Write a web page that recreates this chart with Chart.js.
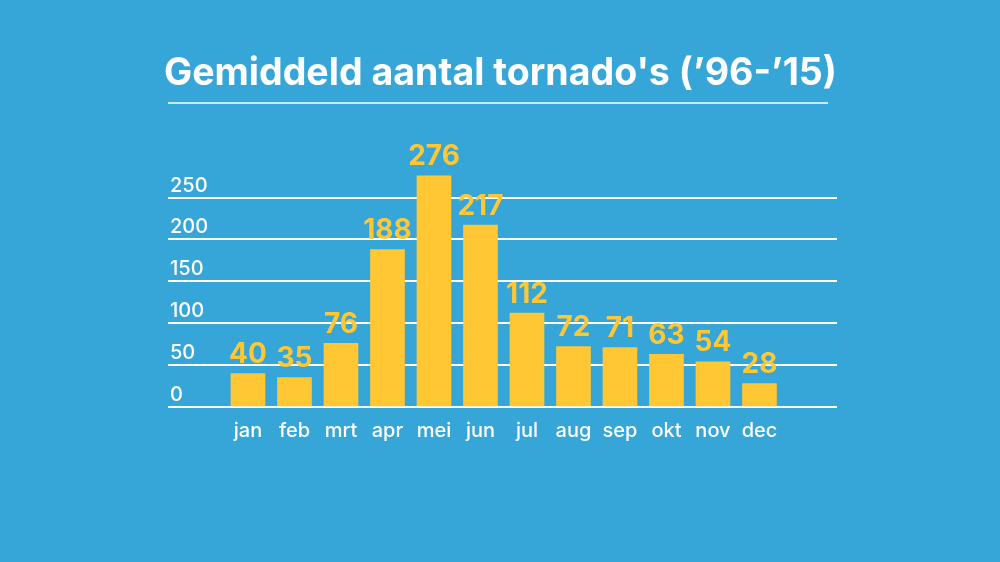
<!DOCTYPE html>
<html>
<head>
<meta charset="utf-8">
<script src="https://cdn.jsdelivr.net/npm/chart.js@4/dist/chart.umd.min.js"></script>
<style>
    html, body { margin: 0; padding: 0; background: #36A5D7; }
    #wrap { width: 1000px; height: 562px; }
</style>
</head>
<body>
<div id="wrap"><canvas id="tornadoChart" width="1000" height="562"></canvas></div>
<script>
const months = ['jan', 'feb', 'mrt', 'apr', 'mei', 'jun', 'jul', 'aug', 'sep', 'okt', 'nov', 'dec'];
const tornadoes = [40, 35, 76, 188, 276, 217, 112, 72, 71, 63, 54, 28];
const yTicks = [0, 50, 100, 150, 200, 250];

const barColor = '#FFC734';

// waarden boven de staven + lijn onder de titel
const extrasPlugin = {
    id: 'extras',
    afterDraw(chart) {
        const ctx = chart.ctx;
        ctx.save();
        ctx.strokeStyle = 'rgba(255,255,255,0.75)';
        ctx.lineWidth = 2;
        ctx.beginPath();
        ctx.moveTo(168, 103);
        ctx.lineTo(828, 103);
        ctx.stroke();

        ctx.fillStyle = barColor;
        ctx.font = '700 28px Inter';
        ctx.textAlign = 'center';
        ctx.textBaseline = 'bottom';
        chart.getDatasetMeta(0).data.forEach((bar, i) => {
            ctx.fillText(tornadoes[i], bar.x, bar.y - 5);
        });
        ctx.restore();
    }
};

const ctx = document.getElementById('tornadoChart').getContext('2d');
new Chart(ctx, {
    type: 'bar',
    data: {
        datasets: [{
            label: 'Tornado\'s',
            data: tornadoes.map((v, i) => ({ x: i + 1, y: v })),
            backgroundColor: barColor,
            borderWidth: 0,
            barThickness: 34
        }]
    },
    options: {
        responsive: false,
        animation: false,
        layout: {
            padding: { left: 164, right: 163, top: 0, bottom: 107 }
        },
        plugins: {
            legend: { display: false },
            tooltip: { enabled: false },
            title: {
                display: true,
                text: 'Gemiddeld aantal tornado\'s (\u201996-\u201915)',
                color: '#ffffff',
                font: { family: 'Inter', size: 38, weight: '700' },
                padding: { top: 51, bottom: 59 }
            }
        },
        scales: {
            x: {
                type: 'linear',
                offset: false,
                min: -0.72,
                max: 13.667,
                grid: { display: false, drawTicks: false },
                border: { display: false },
                afterBuildTicks: function (axis) {
                    axis.ticks = months.map((m, i) => ({ value: i + 1 }));
                },
                ticks: {
                    color: '#ffffff',
                    font: { family: 'Inter', size: 20, weight: '500' },
                    padding: 12,
                    autoSkip: false,
                    maxRotation: 0,
                    callback: function (value) {
                        return months[value - 1];
                    }
                }
            },
            y: {
                min: 0,
                max: 300,
                border: { display: false },
                grid: {
                    color: '#ffffff',
                    lineWidth: 2,
                    drawTicks: false
                },
                afterBuildTicks: function (axis) {
                    axis.ticks = yTicks.map(v => ({ value: v }));
                },
                ticks: {
                    mirror: true,
                    padding: 2,
                    labelOffset: -12,
                    color: '#ffffff',
                    font: { family: 'Inter', size: 20, weight: '500' }
                }
            }
        }
    },
    plugins: [extrasPlugin]
});
</script>
</body>
</html>
